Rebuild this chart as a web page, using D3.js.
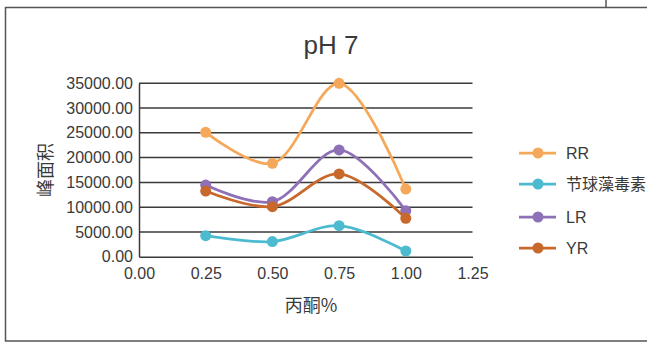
<!DOCTYPE html>
<html>
<head>
<meta charset="utf-8">
<script src="https://cdn.jsdelivr.net/npm/d3@7"></script>
<style>
  html, body { margin: 0; padding: 0; background: #fff; }
  svg { display: block; }
  text { font-family: "Liberation Sans", Arial, "Noto Sans CJK SC", sans-serif; fill: #3a3a3a; }
  .cjk { font-family: "Noto Sans CJK SC", "Liberation Sans", sans-serif; }
</style>
</head>
<body>
<svg id="chart" width="647" height="343"></svg>
<script>
// Acetone concentration (%)
const acetone = [0.25, 0.5, 0.75, 1.0];
const seriesNames = ["RR", "节球藻毒素", "LR", "YR"];
const rrValues   = [25100, 18850, 35000, 13650];
const nodValues  = [4250, 3050, 6250, 1150];
const lrValues   = [14450, 11100, 21550, 9300];
const yrValues   = [13250, 10100, 16700, 7750];
const seriesColors = ["#F5A859", "#4CBBD0", "#8D70B6", "#C8682A"];
const yTicks = [0, 5000, 10000, 15000, 20000, 25000, 30000, 35000];
const xTicks = [0, 0.25, 0.5, 0.75, 1.0, 1.25];

const series = [rrValues, nodValues, lrValues, yrValues].map((vals, i) => ({
  name: seriesNames[i],
  color: seriesColors[i],
  points: acetone.map((x, j) => ({ x, y: vals[j] }))
}));

const svg = d3.select("#chart");

// outer frame
svg.append("rect").attr("x", 5.5).attr("y", 7.5).attr("width", 660).attr("height", 333.5)
  .attr("fill", "none").attr("stroke", "#555").attr("stroke-width", 1.5);
svg.append("line").attr("x1", 606).attr("x2", 606).attr("y1", 0).attr("y2", 7)
  .attr("stroke", "#555").attr("stroke-width", 1.5);

const x = d3.scaleLinear().domain([0, 1.25]).range([139, 472.5]);
const y = d3.scaleLinear().domain([0, 35000]).range([256.7, 83.3]);

// title
svg.append("text").attr("x", 331).attr("y", 54).attr("text-anchor", "middle")
  .attr("font-size", 26).text("pH 7");

// horizontal gridlines
svg.append("g").selectAll("line").data(yTicks.filter(d => d > 0)).join("line")
  .attr("x1", x(0)).attr("x2", x(1.25))
  .attr("y1", d => y(d)).attr("y2", d => y(d))
  .attr("stroke", "#3a3a3a").attr("stroke-width", 1.5);

// y axis
const yAxis = svg.append("g").attr("transform", `translate(${x(0)},0)`)
  .call(d3.axisLeft(y).tickValues(yTicks).tickFormat(d3.format(".2f")).tickSize(0).tickPadding(6));
yAxis.select(".domain").attr("stroke", "#3a3a3a").attr("stroke-width", 1.5);
yAxis.selectAll("text").attr("font-size", 16).attr("fill", "#3a3a3a")
  .style("font-family", "'Liberation Sans', Arial, sans-serif");

// x axis
const xAxis = svg.append("g").attr("transform", `translate(0,${y(0)})`)
  .call(d3.axisBottom(x).tickValues(xTicks).tickFormat(d3.format(".2f")).tickSize(0).tickPadding(11));
xAxis.select(".domain").attr("stroke", "#3a3a3a").attr("stroke-width", 1.5);
xAxis.selectAll("text").attr("font-size", 16).attr("fill", "#3a3a3a")
  .style("font-family", "'Liberation Sans', Arial, sans-serif");

// axis titles
svg.append("text").attr("class", "cjk").attr("x", 311).attr("y", 312)
  .attr("text-anchor", "middle").attr("font-size", 18).text("丙酮%");
svg.append("text").attr("class", "cjk")
  .attr("transform", "translate(52,170) rotate(-90)")
  .attr("text-anchor", "middle").attr("font-size", 18).text("峰面积");

// smoothed series lines and markers
const line = d3.line().x(d => x(d.x)).y(d => y(d.y)).curve(d3.curveCatmullRom.alpha(0.5));
const g = svg.append("g");
series.forEach(s => {
  g.append("path").datum(s.points).attr("d", line)
    .attr("fill", "none").attr("stroke", s.color).attr("stroke-width", 2.75);
  g.selectAll(null).data(s.points).join("circle")
    .attr("cx", d => x(d.x)).attr("cy", d => y(d.y)).attr("r", 5.5)
    .attr("fill", s.color);
});

// legend
const legendY = [153, 184, 217, 248];
const legend = svg.append("g");
series.forEach((s, i) => {
  const row = legend.append("g").attr("transform", `translate(0,${legendY[i]})`);
  row.append("line").attr("x1", 519).attr("x2", 556).attr("stroke", s.color).attr("stroke-width", 2.75);
  row.append("circle").attr("cx", 538).attr("r", 5.5).attr("fill", s.color);
  row.append("text").attr("class", i === 1 ? "cjk" : null).attr("x", 566).attr("dy", "0.35em")
    .attr("font-size", 16).text(s.name);
});
</script>
</body>
</html>
